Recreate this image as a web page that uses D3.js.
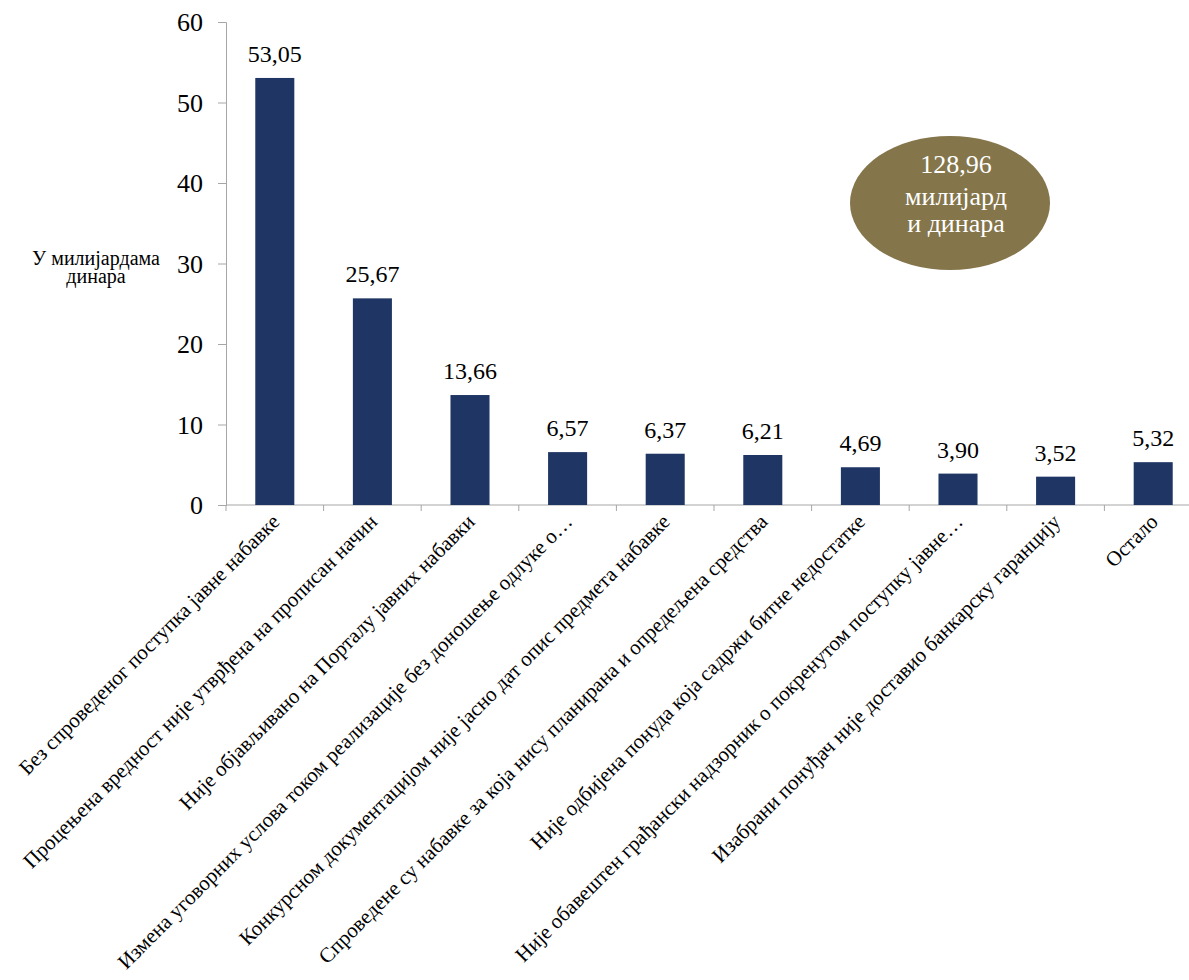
<!DOCTYPE html>
<html>
<head>
<meta charset="utf-8">
<script src="https://cdn.jsdelivr.net/npm/d3@7"></script>
</head>
<body style="margin:0;padding:0;background:#ffffff">
<svg id="graph" width="1189" height="980"></svg>
<script>
// Неправилности по врстама (у милијардама динара)
const categories = [
  "Без спроведеног поступка јавне набавке",
  "Процењена вредност није утврђена на прописан начин",
  "Није објављивано на Порталу јавних набавки",
  "Измена уговорних услова током реализације без доношење одлуке о…",
  "Конкурсном документацијом није јасно дат опис предмета набавке",
  "Спроведене су набавке за која нису планирана и опредељена средства",
  "Није одбијена понуда која садржи битне недостатке",
  "Није обавештен грађански надзорник о покренутом поступку јавне…",
  "Изабрани понуђач није доставио банкарску гаранцију",
  "Остало"
];
const values = [53.05, 25.67, 13.66, 6.57, 6.37, 6.21, 4.69, 3.90, 3.52, 5.32];
const yTicks = [0, 10, 20, 30, 40, 50, 60];
const yTitle = ["У милијардама", "динара"];
const totalLines = ["128,96", "милијард", "и динара"];

const svg = d3.select("#graph");
const plot = { left: 226, right: 1202, top: 22, bottom: 505 };
const face = "Times New Roman";

const x = d3.scaleBand()
  .domain(categories)
  .range([plot.left, plot.right])
  .paddingInner(0.6)
  .paddingOuter(0.3);

const y = d3.scaleLinear()
  .domain([0, 60])
  .range([plot.bottom, plot.top]);

const fmt = v => v.toFixed(2).replace(".", ",");
const axisColor = "#a6a6a6";

// Y axis line and ticks
const yAxis = svg.append("g")
  .attr("transform", `translate(${plot.left},0)`)
  .call(d3.axisLeft(y).tickValues(yTicks).tickSize(8).tickFormat(""));
yAxis.select(".domain").attr("stroke", axisColor);
yAxis.selectAll(".tick line").attr("stroke", axisColor);

// Y tick labels
svg.selectAll("text.ylab")
  .data(yTicks)
  .join("text")
  .attr("class", "ylab")
  .attr("font-family", () => face)
  .attr("font-size", 26)
  .attr("x", plot.left - 23)
  .attr("y", d => y(d) + 9)
  .attr("text-anchor", "end")
  .text(d => d);

// X axis: ticks sit on the boundaries between categories
const step = x.step();
const boundaries = d3.range(categories.length + 1).map(i => plot.left + i * step);
svg.append("line")
  .attr("x1", plot.left).attr("x2", plot.right)
  .attr("y1", y(0)).attr("y2", y(0))
  .attr("stroke", axisColor);
svg.selectAll("line.xtick")
  .data(boundaries)
  .join("line")
  .attr("class", "xtick")
  .attr("x1", d => d).attr("x2", d => d)
  .attr("y1", y(0)).attr("y2", y(0) + 6)
  .attr("stroke", axisColor);

// Bars
svg.selectAll("rect.bar")
  .data(values)
  .join("rect")
  .attr("class", "bar")
  .attr("x", (d, i) => x(categories[i]))
  .attr("y", d => y(d))
  .attr("width", x.bandwidth())
  .attr("height", d => y(0) - y(d))
  .attr("fill", "#1f3564");

// Value labels
svg.selectAll("text.val")
  .data(values)
  .join("text")
  .attr("class", "val")
  .attr("font-family", () => face)
  .attr("font-size", 24)
  .attr("x", (d, i) => x(categories[i]) + x.bandwidth() / 2)
  .attr("y", d => y(d) - 16)
  .attr("text-anchor", "middle")
  .text(d => fmt(d));

// Category labels, rotated 45°
svg.selectAll("text.cat")
  .data(categories)
  .join("text")
  .attr("class", "cat")
  .attr("font-family", () => face)
  .attr("font-size", 21)
  .attr("transform", d => `translate(${x(d) + x.bandwidth() / 2 + 6},${y(0) + 18}) rotate(-45)`)
  .attr("text-anchor", "end")
  .text(d => d);

// Y axis title
svg.selectAll("text.ytitle")
  .data(yTitle)
  .join("text")
  .attr("class", "ytitle")
  .attr("font-family", () => face)
  .attr("font-size", 20)
  .attr("x", 96)
  .attr("y", (d, i) => 265 + i * 18)
  .attr("text-anchor", "middle")
  .text(d => d);

// Total badge
svg.append("ellipse")
  .attr("cx", 950).attr("cy", 203)
  .attr("rx", 100).attr("ry", 67)
  .attr("fill", "#84754b");
svg.selectAll("text.total")
  .data(totalLines)
  .join("text")
  .attr("class", "total")
  .attr("font-family", () => face)
  .attr("font-size", 26)
  .attr("x", 956)
  .attr("y", (d, i) => [173, 205, 232][i])
  .attr("text-anchor", "middle")
  .attr("fill", "#ffffff")
  .text(d => d);
</script>
</body>
</html>
